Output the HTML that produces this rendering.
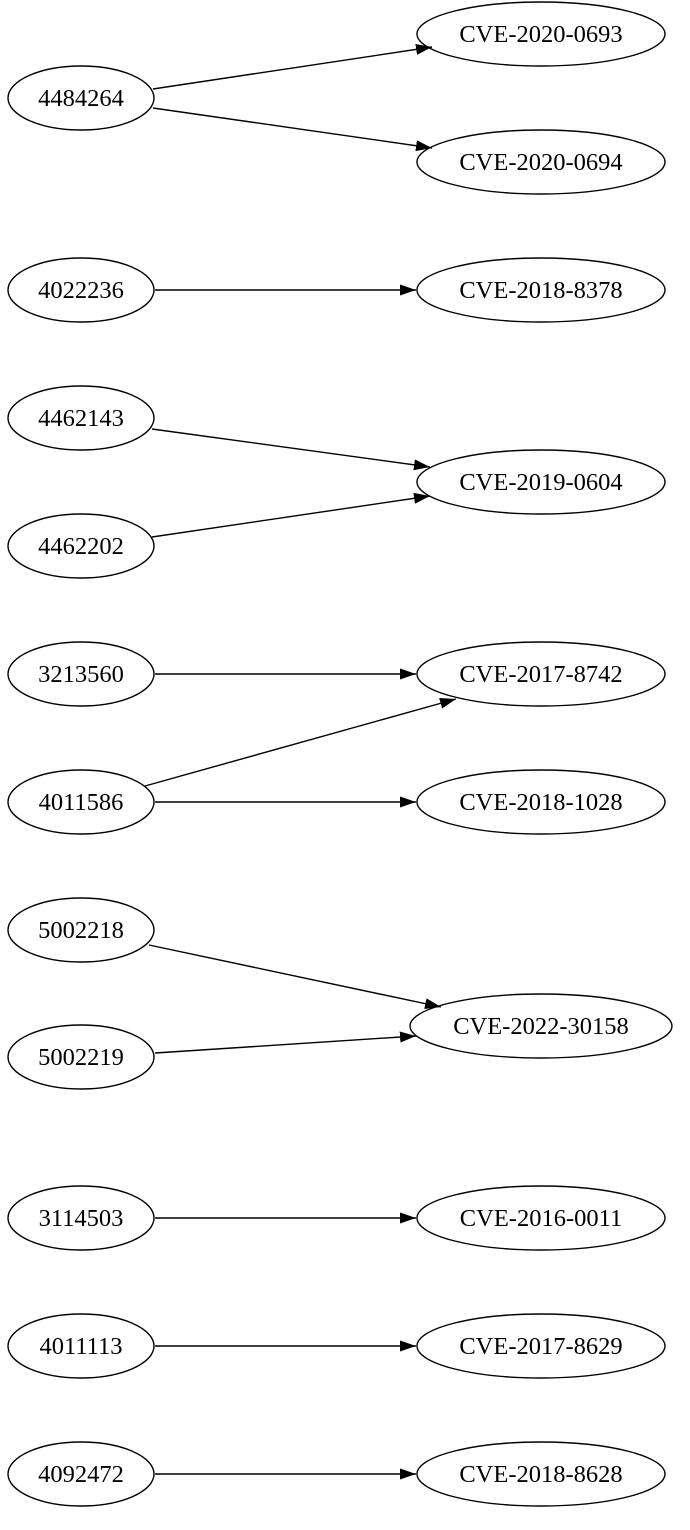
<!DOCTYPE html>
<html><head><meta charset="utf-8"><style>html,body{margin:0;padding:0;background:#fff}svg{display:block}</style></head>
<body>
<svg width="690" height="1530" viewBox="0 0 690 1530" xmlns="http://www.w3.org/2000/svg">
<defs><marker id="a" markerWidth="16" markerHeight="11" refX="16" refY="5.5" orient="auto" markerUnits="userSpaceOnUse"><polygon points="0,0 16,5.5 0,11" fill="#000"/></marker></defs>
<g fill="none" stroke="#000" stroke-width="1.4">
<ellipse cx="81" cy="98" rx="73" ry="32"/>
<ellipse cx="81" cy="290" rx="73" ry="32"/>
<ellipse cx="81" cy="418" rx="73" ry="32"/>
<ellipse cx="81" cy="546" rx="73" ry="32"/>
<ellipse cx="81" cy="674" rx="73" ry="32"/>
<ellipse cx="81" cy="802" rx="73" ry="32"/>
<ellipse cx="81" cy="930" rx="73" ry="32"/>
<ellipse cx="81" cy="1057" rx="73" ry="32"/>
<ellipse cx="81" cy="1218" rx="73" ry="32"/>
<ellipse cx="81" cy="1346" rx="73" ry="32"/>
<ellipse cx="81" cy="1474" rx="73" ry="32"/>
<ellipse cx="541" cy="34" rx="124" ry="32"/>
<ellipse cx="541" cy="162" rx="124" ry="32"/>
<ellipse cx="541" cy="290" rx="124" ry="32"/>
<ellipse cx="541" cy="482" rx="124" ry="32"/>
<ellipse cx="541" cy="674" rx="124" ry="32"/>
<ellipse cx="541" cy="802" rx="124" ry="32"/>
<ellipse cx="541" cy="1026" rx="131" ry="32"/>
<ellipse cx="541" cy="1218" rx="124" ry="32"/>
<ellipse cx="541" cy="1346" rx="124" ry="32"/>
<ellipse cx="541" cy="1474" rx="124" ry="32"/>
<g marker-end="url(#a)">
<line x1="153" y1="89" x2="432" y2="47"/>
<line x1="153" y1="108" x2="432" y2="148"/>
<line x1="155" y1="290" x2="416" y2="290"/>
<line x1="152" y1="429" x2="430" y2="467"/>
<line x1="152" y1="537" x2="430" y2="496"/>
<line x1="155" y1="674" x2="416" y2="674"/>
<line x1="145" y1="786" x2="456" y2="699"/>
<line x1="155" y1="802" x2="416" y2="802"/>
<line x1="149" y1="945" x2="441" y2="1007"/>
<line x1="155" y1="1053" x2="416" y2="1036"/>
<line x1="155" y1="1218" x2="416" y2="1218"/>
<line x1="155" y1="1346" x2="416" y2="1346"/>
<line x1="155" y1="1474" x2="416" y2="1474"/>
</g></g>
<g font-family="Liberation Serif, serif" font-size="24.5" text-anchor="middle" fill="#000">
<text x="81" y="106">4484264</text>
<text x="81" y="298">4022236</text>
<text x="81" y="426">4462143</text>
<text x="81" y="554">4462202</text>
<text x="81" y="682">3213560</text>
<text x="81" y="810">4011586</text>
<text x="81" y="938">5002218</text>
<text x="81" y="1065">5002219</text>
<text x="81" y="1226">3114503</text>
<text x="81" y="1354">4011113</text>
<text x="81" y="1482">4092472</text>
<text x="541" y="42">CVE-2020-0693</text>
<text x="541" y="170">CVE-2020-0694</text>
<text x="541" y="298">CVE-2018-8378</text>
<text x="541" y="490">CVE-2019-0604</text>
<text x="541" y="682">CVE-2017-8742</text>
<text x="541" y="810">CVE-2018-1028</text>
<text x="541" y="1034">CVE-2022-30158</text>
<text x="541" y="1226">CVE-2016-0011</text>
<text x="541" y="1354">CVE-2017-8629</text>
<text x="541" y="1482">CVE-2018-8628</text>
</g>
</svg>
</body></html>
